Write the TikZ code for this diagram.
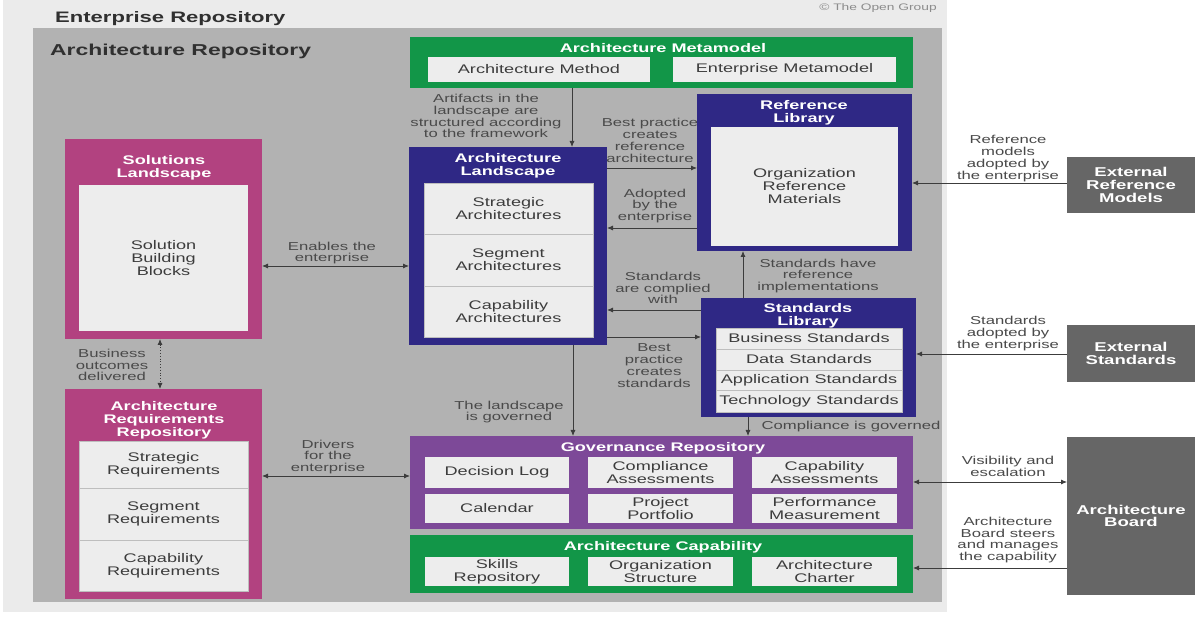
\documentclass[tikz,border=0pt]{standalone}
\usepackage{fontspec}
\setmainfont{Liberation Sans}[FakeStretch=1.45]
\usetikzlibrary{arrows.meta,calc}
\definecolor{greenc}{RGB}{18,150,72}
\definecolor{navyc}{RGB}{47,40,133}
\definecolor{magc}{RGB}{178,66,128}
\definecolor{purpc}{RGB}{125,73,152}
\definecolor{cellc}{RGB}{237,237,237}
\definecolor{outerc}{RGB}{235,235,235}
\definecolor{repoc}{RGB}{178,178,178}
\definecolor{extc}{RGB}{102,102,102}
\definecolor{txtc}{RGB}{60,60,60}
\definecolor{lblc}{RGB}{74,74,74}
\definecolor{arrc}{RGB}{60,60,60}
\definecolor{divc}{RGB}{190,190,190}
\newcommand\mkbox[6]{\node[#1,minimum width=#4pt,minimum height=#5pt] (#2) at (#3) {#6};}
\begin{document}
\begin{tikzpicture}[x=1pt,y=-1pt,
  box/.style={draw=none,inner sep=0pt,outer sep=0pt,anchor=north west},
  cont/.style={box,fill=#1},
  cell/.style={box,fill=cellc,text=txtc,align=center,font=\fontsize{12.5}{13}\selectfont},
  rowcell/.style={cell,draw=divc,line width=0.6pt},
  ext/.style={box,fill=extc,text=white,align=center,font=\bfseries\fontsize{12.8}{12.8}\selectfont},
  ttl/.style={text=white,align=center,inner sep=0pt,font=\bfseries\fontsize{12.5}{13}\selectfont},
  head/.style={text=txtc!80!black,inner sep=0pt,font=\bfseries\fontsize{15.2}{16}\selectfont},
  lbl/.style={text=lblc,align=center,inner sep=0pt,font=\fontsize{11.5}{11.8}\selectfont},
  arr/.style={draw=arrc,line width=0.8pt,-{Latex[length=6pt,width=5pt]}},
  darr/.style={draw=arrc,line width=0.8pt,{Latex[length=6pt,width=5pt]}-{Latex[length=6pt,width=5pt]}}
]
\useasboundingbox (0,0) rectangle (1197,617);
\fill[white] (0,0) rectangle (1197,617);
\mkbox{cont=outerc}{ent}{3,0}{944}{612}{}
\mkbox{cont=repoc}{arch}{33,28}{909}{574}{}
\node[head,anchor=base west] (entt) at (55,22.5) {Enterprise Repository};
\node[head,anchor=base west,font=\bfseries\fontsize{15.8}{16}\selectfont] (archt) at (50,56) {Architecture Repository};
\node[text=black!45,inner sep=0pt,font=\fontsize{9.5}{10}\selectfont] (copyr) at (878,8) {© The Open Group};

% labels (behind boxes)
\node[lbl] (l1) at (486,116) {Artifacts in the\\landscape are\\structured according\\to the framework};
\node[lbl] (l2) at (650,140.5) {Best practice\\creates\\reference\\architecture};
\node[lbl] (l3) at (655,206) {Adopted\\by the\\enterprise};
\node[lbl] (l4) at (818,276) {Standards have\\reference\\implementations};
\node[lbl] (l5) at (663,288) {Standards\\are complied\\with};
\node[lbl] (l6) at (654,365.5) {Best\\practice\\creates\\standards};
\node[lbl] (l7) at (509,412) {The landscape\\is governed};
\node[lbl] (l8) at (851,427) {Compliance is governed};
\node[lbl] (l9) at (332,253) {Enables the\\enterprise};
\node[lbl] (l10) at (112,365) {Business\\outcomes\\delivered};
\node[lbl] (l11) at (328,457) {Drivers\\for the\\enterprise};
\node[lbl] (l12) at (1008,158.5) {Reference\\models\\adopted by\\the enterprise};
\node[lbl] (l13) at (1008,333.5) {Standards\\adopted by\\the enterprise};
\node[lbl] (l14) at (1008,466) {Visibility and\\escalation};
\node[lbl] (l15) at (1008,540) {Architecture\\Board steers\\and manages\\the capability};

% Architecture Metamodel
\mkbox{cont=greenc}{meta}{410,37}{503}{51}{}
\node[ttl] (metat) at (663,48.5) {Architecture Metamodel};
\mkbox{cell}{am}{428,57}{222}{25}{Architecture Method}
\mkbox{cell}{em}{673,57}{223}{25}{Enterprise Metamodel}

% Reference Library
\mkbox{cont=navyc}{ref}{697,94}{215}{157}{}
\node[ttl] (reft) at (804,113) {Reference\\Library};
\mkbox{cell}{refin}{711,127}{187}{119}{Organization\\Reference\\Materials}

% Architecture Landscape
\mkbox{cont=navyc}{land}{409,147}{198}{198}{}
\node[ttl] (landt) at (508,165.5) {Architecture\\Landscape};
\mkbox{rowcell}{strat}{424,183}{169}{51}{Strategic\\Architectures}
\mkbox{rowcell}{segm}{424,234}{169}{52}{Segment\\Architectures}
\mkbox{rowcell}{capa}{424,286}{169}{51}{Capability\\Architectures}

% Standards Library
\mkbox{cont=navyc}{std}{701,298}{215}{119}{}
\node[ttl] (stdt) at (808,315.5) {Standards\\Library};
\mkbox{rowcell}{bus}{716,328}{186}{21}{Business Standards}
\mkbox{rowcell}{dat}{716,349}{186}{21}{Data Standards}
\mkbox{rowcell}{app}{716,370}{186}{20}{Application Standards}
\mkbox{rowcell}{tec}{716,390}{186}{22}{Technology Standards}

% Solutions Landscape
\mkbox{cont=magc}{sol}{65,139}{197}{200}{}
\node[ttl] (solt) at (164,167.5) {Solutions\\Landscape};
\mkbox{cell}{solin}{79,185}{169}{146}{Solution\\Building\\Blocks}

% Architecture Requirements Repository
\mkbox{cont=magc}{req}{65,389}{197}{210}{}
\node[ttl] (reqt) at (164,420.5) {Architecture\\Requirements\\Repository};
\mkbox{rowcell}{rstrat}{79,441}{169}{47}{Strategic\\Requirements}
\mkbox{rowcell}{rsegm}{79,488}{169}{52}{Segment\\Requirements}
\mkbox{rowcell}{rcapa}{79,540}{169}{51}{Capability\\Requirements}

% Governance Repository
\mkbox{cont=purpc}{gov}{410,436}{503}{93}{}
\node[ttl] (govt) at (663,448.5) {Governance Repository};
\mkbox{cell}{dlog}{425,457}{144}{31}{Decision Log}
\mkbox{cell}{comp}{588,457}{145}{31}{Compliance\\Assessments}
\mkbox{cell}{caps}{752,457}{145}{31}{Capability\\Assessments}
\mkbox{cell}{cal}{425,494}{144}{29}{Calendar}
\mkbox{cell}{proj}{588,494}{145}{29}{Project\\Portfolio}
\mkbox{cell}{perf}{752,494}{145}{29}{Performance\\Measurement}

% Architecture Capability
\mkbox{cont=greenc}{acap}{410,535}{503}{58}{}
\node[ttl] (acapt) at (663,547.5) {Architecture Capability};
\mkbox{cell}{skil}{425,557}{144}{29}{Skills\\Repository}
\mkbox{cell}{org}{588,557}{145}{29}{Organization\\Structure}
\mkbox{cell}{chart}{752,557}{145}{29}{Architecture\\Charter}

% External boxes
\mkbox{ext}{extref}{1067,157}{128}{56}{External\\Reference\\Models}
\mkbox{ext}{extstd}{1067,325}{128}{57}{External\\Standards}
\mkbox{ext}{board}{1067,437}{128}{158}{Architecture\\Board}

% helper coordinates for connector positions
\coordinate (ya) at (0,168);
\coordinate (yb) at (0,228);
\coordinate (yc) at (0,310);
\coordinate (yd) at (0,337);
\coordinate (ye) at (0,266);
\coordinate (yf) at (0,476);
\coordinate (yg) at (0,183);
\coordinate (yh) at (0,354);
\coordinate (yi) at (0,482);
\coordinate (yj) at (0,568);
\coordinate (xa) at (572,0);
\coordinate (xb) at (743,0);
\coordinate (xc) at (573,0);
\coordinate (xd) at (748,0);
\coordinate (xe) at (160,0);

% connectors
\draw[arr] (meta.south -| xa) -- (land.north -| xa);
\draw[arr] (land.east |- ya) -- (ref.west |- ya);
\draw[arr] (ref.west |- yb) -- (land.east |- yb);
\draw[arr] (std.north -| xb) -- (ref.south -| xb);
\draw[arr] (std.west |- yc) -- (land.east |- yc);
\draw[arr] (land.east |- yd) -- (std.west |- yd);
\draw[arr] (land.south -| xc) -- (gov.north -| xc);
\draw[arr] (std.south -| xd) -- (gov.north -| xd);
\draw[darr] (sol.east |- ye) -- (land.west |- ye);
\draw[darr,dotted] (sol.south -| xe) -- (req.north -| xe);
\draw[darr] (req.east |- yf) -- (gov.west |- yf);
\draw[arr] (extref.west |- yg) -- (ref.east |- yg);
\draw[arr] (extstd.west |- yh) -- (std.east |- yh);
\draw[darr] (gov.east |- yi) -- (board.west |- yi);
\draw[arr] (board.west |- yj) -- (acap.east |- yj);
\end{tikzpicture}
\end{document}
